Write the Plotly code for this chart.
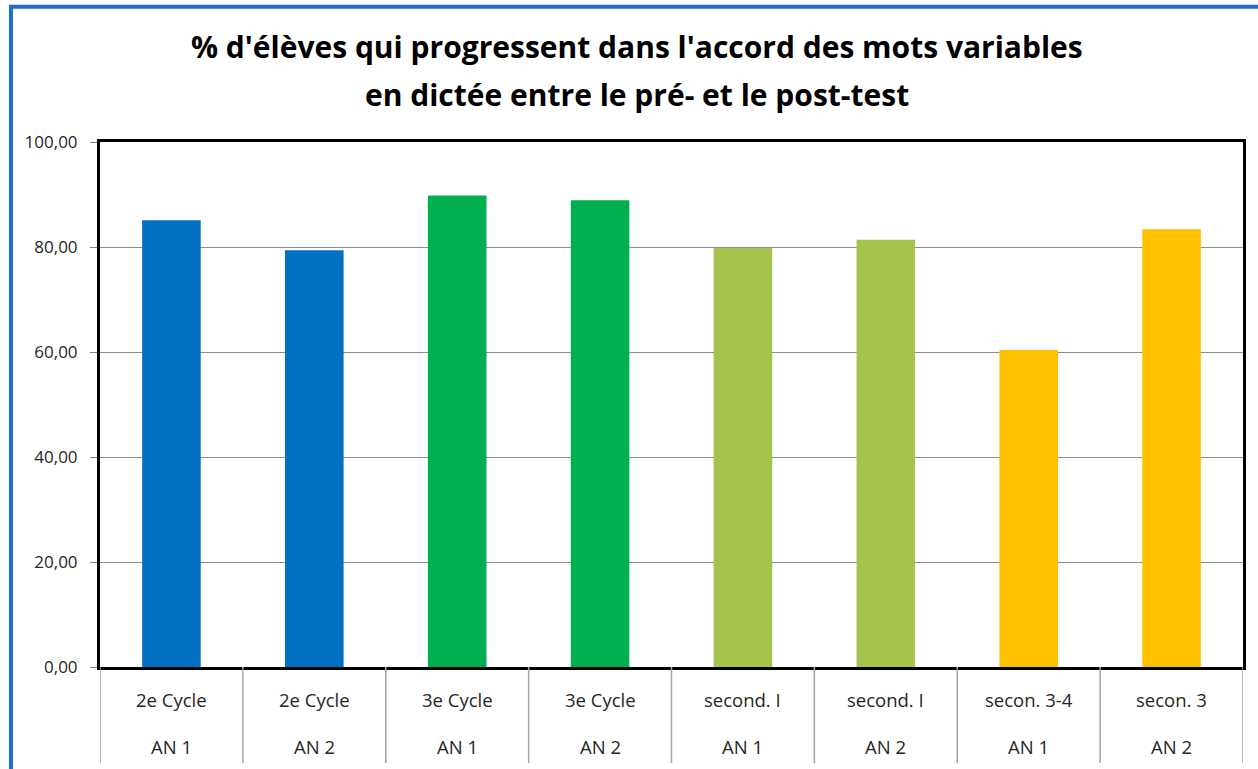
import plotly.graph_objects as go

# Data
level_labels = ["2e Cycle", "2e Cycle", "3e Cycle", "3e Cycle",
                "second. I", "second. I", "secon. 3-4", "secon. 3"]
year_labels = ["AN 1", "AN 2", "AN 1", "AN 2", "AN 1", "AN 2", "AN 1", "AN 2"]
values = [85.1, 79.4, 89.8, 88.9, 79.8, 81.4, 60.4, 83.4]
bar_colors = ["#0070C0", "#0070C0", "#00B050", "#00B050",
              "#A6C34C", "#A6C34C", "#FFC000", "#FFC000"]
y_ticks = [0, 20, 40, 60, 80, 100]
title_lines = ["% d'élèves qui progressent dans l'accord des mots variables",
               "en dictée entre le pré- et le post-test"]

categories = [f"{a} {b} #{i}" for i, (a, b) in enumerate(zip(level_labels, year_labels))]

FONT = "Open Sans"

fig = go.Figure()
fig.add_trace(go.Bar(
    x=categories, y=values,
    marker=dict(color=bar_colors, line=dict(width=0)),
    hoverinfo="x+y",
))

annotations = []
for cat, lvl, yr in zip(categories, level_labels, year_labels):
    annotations.append(dict(x=cat, y=-0.061, xref="x", yref="paper", text=lvl,
                            showarrow=False, yanchor="middle",
                            font=dict(family=FONT, size=18.5, color="#262626")))
    annotations.append(dict(x=cat, y=-0.151, xref="x", yref="paper", text=yr,
                            showarrow=False, yanchor="middle",
                            font=dict(family=FONT, size=18.5, color="#262626")))

for line, ypos in zip(title_lines, [1.181, 1.091]):
    annotations.append(dict(x=0.47, y=ypos, xref="paper", yref="paper",
                            text=f"<b>{line}</b>", showarrow=False,
                            xanchor="center", yanchor="middle",
                            font=dict(family=FONT, size=30, color="#000000")))

shapes = []
n = len(categories)
for i in range(n + 1):
    shapes.append(dict(type="line", xref="x", yref="paper",
                       x0=i - 0.5, x1=i - 0.5, y0=0, y1=-0.183,
                       line=dict(color="#A6A6A6", width=1.5)))
# outer blue frame
shapes.append(dict(type="rect", xref="paper", yref="paper",
                   x0=-0.0779, x1=1.2, y0=-0.5, y1=1.2576,
                   line=dict(color="#1F6FC5", width=4), layer="below"))

fig.update_layout(
    width=1258, height=769,
    margin=dict(l=100, r=15, t=142, b=102),
    paper_bgcolor="white", plot_bgcolor="white",
    separators=", ",
    bargap=0.59,
    showlegend=False,
    xaxis=dict(
        type="category", showticklabels=False, ticks="",
        showline=True, mirror=True, linecolor="#000000", linewidth=3,
        showgrid=False, range=[-0.5, n - 0.5],
    ),
    yaxis=dict(
        range=[0, 100], tickvals=y_ticks, tickformat=".2f",
        ticks="outside", ticklen=7, tickcolor="#808080", tickwidth=1,
        showline=True, mirror=True, linecolor="#000000", linewidth=3,
        showgrid=True, gridcolor="#8C8C8C", gridwidth=1,
        tickfont=dict(family=FONT, size=17, color="#262626"),
        ticklabelstandoff=9, zeroline=False,
    ),
    annotations=annotations,
    shapes=shapes,
)

fig.write_html("out.html", config={"displayModeBar": False},
               post_script="document.body.style.margin='0';")
